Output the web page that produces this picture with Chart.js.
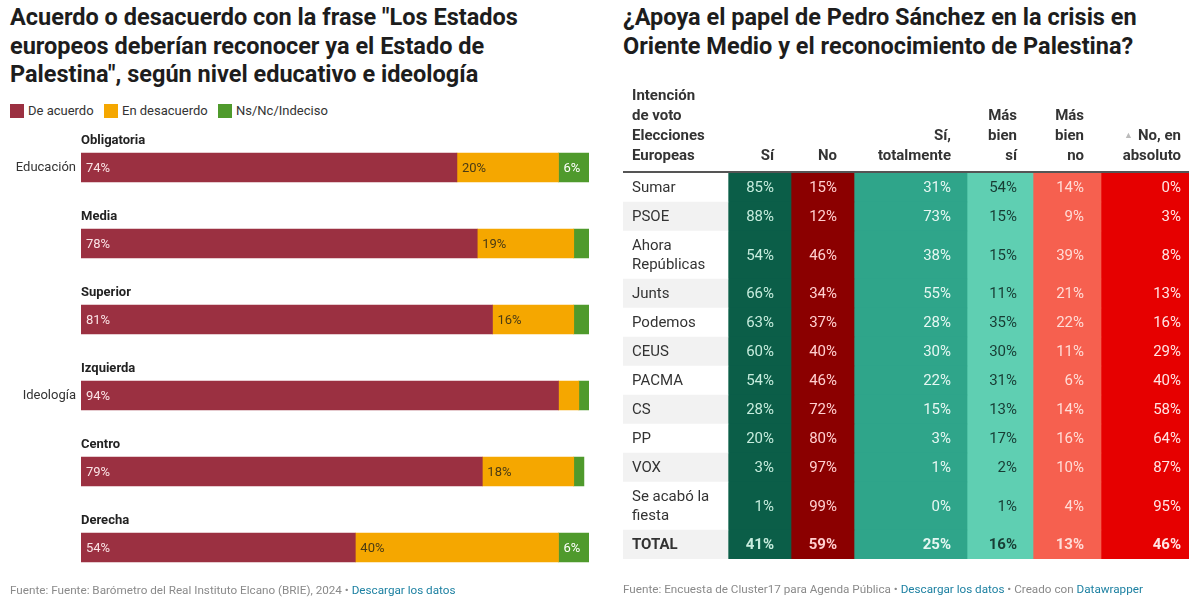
<!DOCTYPE html>
<html lang="es">
<head>
<meta charset="utf-8">
<script src="https://cdn.jsdelivr.net/npm/chart.js@4"></script>
<style>
  body { margin: 0; width: 1200px; height: 602px; position: relative; background: #fff; font-family: Roboto, sans-serif; overflow: hidden; }
  .titulo { position: absolute; font-weight: bold; font-size: 23.5px; line-height: 28.5px; color: #1d1d1d; white-space: nowrap; }
  .leyenda { position: absolute; top: 103px; font-size: 13px; color: #333; display: flex; align-items: center; }
  .leyenda span.cuadro { display: inline-block; width: 14px; height: 14px; margin-right: 4px; }
  .fuente { position: absolute; font-size: 11.7px; color: #8a8a8a; white-space: nowrap; }
  .fuente a { color: #1d81a2; text-decoration: none; }
  canvas { position: absolute; top: 0; }
</style>
</head>
<body>
<div class="titulo" style="left:10px;top:3px;">Acuerdo o desacuerdo con la frase "Los Estados<br>europeos deberían reconocer ya el Estado de<br>Palestina", según nivel educativo e ideología</div>
<div class="leyenda" style="left:10px;"><span class="cuadro" style="background:#9b3041"></span>De acuerdo</div>
<div class="leyenda" style="left:104px;"><span class="cuadro" style="background:#f5a700"></span>En desacuerdo</div>
<div class="leyenda" style="left:218px;"><span class="cuadro" style="background:#4f9a2c"></span>Ns/Nc/Indeciso</div>
<canvas id="graficoIzq" width="600" height="602" style="left:0"></canvas>
<div class="fuente" style="left:10px;top:583px;">Fuente: Fuente: Barómetro del Real Instituto Elcano (BRIE), 2024 • <a>Descargar los datos</a></div>

<div class="titulo" style="left:623px;top:3px;">¿Apoya el papel de Pedro Sánchez en la crisis en<br>Oriente Medio y el reconocimiento de Palestina?</div>
<canvas id="graficoDer" width="590" height="602" style="left:610px"></canvas>
<div class="fuente" style="left:623px;top:582px;">Fuente: Encuesta de Cluster17 para Agenda Pública • <a>Descargar los datos</a> • Creado con <a>Datawrapper</a></div>

<script>
// Datos del gráfico de barras (izquierda)
const categorias = ['Obligatoria', 'Media', 'Superior', 'Izquierda', 'Centro', 'Derecha'];
const grupos = ['Educación', 'Educación', 'Educación', 'Ideología', 'Ideología', 'Ideología'];
const deAcuerdo = [74, 78, 81, 94, 79, 54];
const enDesacuerdo = [20, 19, 16, 4, 18, 40];
const nsNc = [6, 3, 3, 2, 2, 6];

// Datos de la tabla (derecha)
const partidos = [['Sumar'], ['PSOE'], ['Ahora', 'Repúblicas'], ['Junts'], ['Podemos'], ['CEUS'], ['PACMA'], ['CS'], ['PP'], ['VOX'], ['Se acabó la', 'fiesta'], ['TOTAL']];
const cabeceraFilas = ['Intención', 'de voto', 'Elecciones', 'Europeas'];
const cabeceras = [['Sí'], ['No'], ['Sí,', 'totalmente'], ['Más', 'bien', 'sí'], ['Más', 'bien', 'no'], ['No, en', 'absoluto']];
const si = [85, 88, 54, 66, 63, 60, 54, 28, 20, 3, 1, 41];
const no = [15, 12, 46, 34, 37, 40, 46, 72, 80, 97, 99, 59];
const siTotalmente = [31, 73, 38, 55, 28, 30, 22, 15, 3, 1, 0, 25];
const masBienSi = [54, 15, 15, 11, 35, 30, 31, 13, 17, 2, 1, 16];
const masBienNo = [14, 9, 39, 21, 22, 11, 6, 14, 16, 10, 4, 13];
const noEnAbsoluto = [0, 3, 8, 13, 16, 29, 40, 58, 64, 87, 95, 46];

// ---------- Gráfico de barras apiladas ----------
const coloresBarras = ['#9b3041', '#f5a700', '#4f9a2c'];
const coloresTextoBarras = ['#fbe3e6', '#4a3b14', '#ffffff'];

const etiquetasBarras = {
    id: 'etiquetasBarras',
    afterDatasetsDraw(chart) {
        const ctx = chart.ctx;
        const area = chart.chartArea;
        ctx.save();
        ctx.textBaseline = 'middle';
        chart.getDatasetMeta(0).data.forEach((bar, i) => {
            ctx.font = 'bold 13px Roboto';
            ctx.fillStyle = '#222';
            ctx.textAlign = 'left';
            ctx.fillText(categorias[i], area.left, bar.y - 27);
            if (i === 0 || grupos[i] !== grupos[i - 1]) {
                ctx.font = '13px Roboto';
                ctx.fillStyle = '#333';
                ctx.textAlign = 'right';
                ctx.fillText(grupos[i], area.left - 5, bar.y);
            }
        });
        ctx.textAlign = 'left';
        ctx.font = '13px Roboto';
        chart.data.datasets.forEach((ds, d) => {
            chart.getDatasetMeta(d).data.forEach((bar, i) => {
                const v = ds.data[i];
                if (v < 5) return; // los segmentos pequeños no llevan etiqueta
                ctx.fillStyle = coloresTextoBarras[d];
                ctx.fillText(v + '%', Math.min(bar.base, bar.x) + 5, bar.y + 1);
            });
        });
        ctx.restore();
    }
};

new Chart(document.getElementById('graficoIzq'), {
    type: 'bar',
    data: {
        labels: categorias,
        datasets: [
            { label: 'De acuerdo', data: deAcuerdo, backgroundColor: coloresBarras[0] },
            { label: 'En desacuerdo', data: enDesacuerdo, backgroundColor: coloresBarras[1] },
            { label: 'Ns/Nc/Indeciso', data: nsNc, backgroundColor: coloresBarras[2] }
        ]
    },
    options: {
        indexAxis: 'y',
        responsive: false,
        animation: false,
        barThickness: 29,
        layout: { padding: { left: 81, right: 11, top: 129.5, bottom: 16.5 } },
        scales: {
            x: { stacked: true, min: 0, max: 100, display: false },
            y: { stacked: true, display: false }
        },
        plugins: { legend: { display: false }, tooltip: { enabled: false } }
    },
    plugins: [etiquetasBarras]
});

// ---------- Tabla con celdas coloreadas ----------
const columnasValores = [si, no, siTotalmente, masBienSi, masBienNo, noEnAbsoluto];
const bordesColumnas = [0, 105, 168, 231, 344, 410, 478, 566];
const coloresColumnas = ['#0b5e48', '#8b0000', '#2fa58a', '#5fcfb2', '#f6604f', '#e60000'];
const coloresTextoColumnas = ['#c6ecdd', '#ffcfcf', '#e6f7f2', '#183c34', '#ffdcd6', '#ffe4e4'];
const margenDerecho = [17, 17, 16, 16, 17, 8];

// filas: alto según líneas de la etiqueta
const filas = [];
let acumulado = 0;
partidos.forEach(p => {
    const alto = p.length === 2 ? 48 : 29;
    filas.push({ top: acumulado, bottom: acumulado + alto });
    acumulado += alto;
});

const centro = c => (bordesColumnas[c] + bordesColumnas[c + 1]) / 2;
const ancho = c => bordesColumnas[c + 1] - bordesColumnas[c];

const datasetsTabla = [{
    data: filas.map(f => ({ x: centro(0), y: [f.top, f.bottom] })),
    backgroundColor: filas.map((f, i) => i % 2 ? '#f2f2f2' : '#ffffff'),
    barThickness: ancho(0)
}];
columnasValores.forEach((col, c) => {
    datasetsTabla.push({
        data: col.map((v, i) => ({ x: centro(c + 1), y: [filas[i].top, filas[i].bottom] })),
        backgroundColor: coloresColumnas[c],
        barThickness: ancho(c + 1)
    });
});

const textosTabla = {
    id: 'textosTabla',
    afterDatasetsDraw(chart) {
        const ctx = chart.ctx;
        const sx = chart.scales.x;
        const sy = chart.scales.y;
        const area = chart.chartArea;
        ctx.save();
        ctx.textBaseline = 'middle';

        // cabeceras
        ctx.font = 'bold 15px Roboto';
        ctx.fillStyle = '#333';
        ctx.textAlign = 'left';
        const baseCab = area.top - 17;
        cabeceraFilas.forEach((t, k) => {
            ctx.fillText(t, sx.getPixelForValue(0) + 9, baseCab - (cabeceraFilas.length - 1 - k) * 20);
        });
        ctx.textAlign = 'right';
        cabeceras.forEach((lineas, c) => {
            const xr = sx.getPixelForValue(bordesColumnas[c + 2]) - margenDerecho[c];
            lineas.forEach((t, k) => {
                ctx.fillText(t, xr, baseCab - (lineas.length - 1 - k) * 20);
            });
            if (c === cabeceras.length - 1) {
                const w = ctx.measureText(lineas[0]).width;
                ctx.font = '9px Roboto';
                ctx.fillStyle = '#bbb';
                ctx.fillText('▲', xr - w - 5, baseCab - 20);
                ctx.font = 'bold 15px Roboto';
                ctx.fillStyle = '#333';
            }
        });

        // línea bajo la cabecera
        ctx.fillStyle = '#555';
        ctx.fillRect(area.left, area.top - 2, area.right - area.left, 2);

        // celdas
        filas.forEach((f, i) => {
            const yc = (sy.getPixelForValue(f.top) + sy.getPixelForValue(f.bottom)) / 2;
            const negrita = partidos[i][0] === 'TOTAL' ? 'bold ' : '';
            ctx.font = negrita + '15px Roboto';
            ctx.textAlign = 'left';
            ctx.fillStyle = '#333';
            const lineas = partidos[i];
            lineas.forEach((t, k) => {
                ctx.fillText(t, sx.getPixelForValue(0) + 9, yc + (k - (lineas.length - 1) / 2) * 19 + 1);
            });
            ctx.textAlign = 'right';
            columnasValores.forEach((col, c) => {
                ctx.fillStyle = coloresTextoColumnas[c];
                ctx.fillText(col[i] + '%', sx.getPixelForValue(bordesColumnas[c + 2]) - margenDerecho[c], yc + 1);
            });
        });
        ctx.restore();
    }
};

new Chart(document.getElementById('graficoDer'), {
    type: 'bar',
    data: { datasets: datasetsTabla },
    options: {
        responsive: false,
        animation: false,
        grouped: false,
        borderWidth: 0,
        layout: { padding: { left: 13, right: 11, top: 173, bottom: 602 - 173 - acumulado } },
        scales: {
            x: { type: 'linear', offset: false, min: 0, max: bordesColumnas[bordesColumnas.length - 1], display: false },
            y: { type: 'linear', min: 0, max: acumulado, reverse: true, display: false }
        },
        plugins: { legend: { display: false }, tooltip: { enabled: false } }
    },
    plugins: [textosTabla]
});
</script>
</body>
</html>
